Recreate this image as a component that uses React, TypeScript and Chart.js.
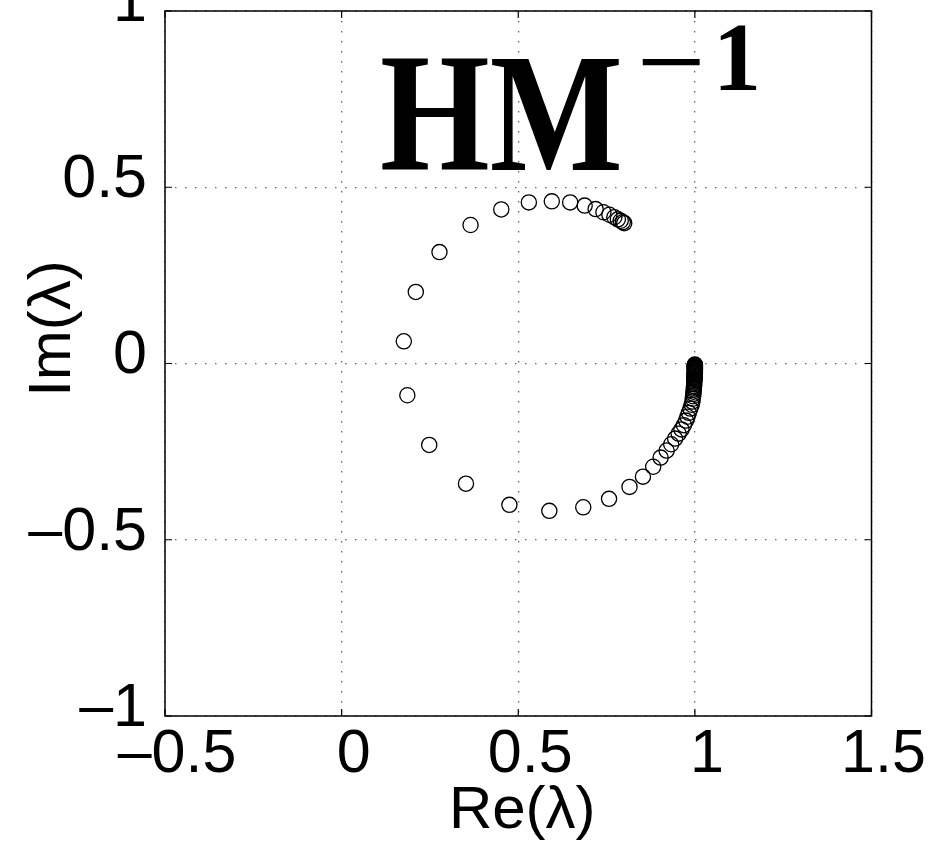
import React, { useEffect, useRef } from 'react';
import { Chart, registerables } from 'chart.js';

Chart.register(...registerables);

const reValues = [
  0.800, 0.796, 0.790, 0.782, 0.772, 0.758, 0.741, 0.719, 0.688, 0.647,
  0.595, 0.530, 0.452, 0.365, 0.277, 0.210, 0.176, 0.186, 0.248, 0.352,
  0.475, 0.588, 0.684, 0.757, 0.815, 0.853, 0.882, 0.903, 0.920, 0.933,
  0.944, 0.954, 0.962, 0.969, 0.975, 0.979, 0.983, 0.987, 0.991, 0.993,
  0.994, 0.995, 0.996, 0.996, 0.997, 0.997, 0.998, 0.998, 0.998, 0.998,
  0.999, 0.999, 0.999, 0.999, 0.999, 0.999, 0.999, 1.000, 1.000, 1.000,
  1.000, 1.000, 1.000, 1.000, 1.000, 1.000, 1.000, 1.000, 1.000, 1.000,
  1.000, 1.000, 1.000, 1.000, 1.000, 1.000, 1.000, 1.000,
];
const imValues = [
  0.398, 0.401, 0.405, 0.409, 0.415, 0.422, 0.429, 0.438, 0.448, 0.457,
  0.460, 0.457, 0.437, 0.393, 0.316, 0.203, 0.063, -0.090, -0.231, -0.341,
  -0.401, -0.418, -0.408, -0.384, -0.350, -0.321, -0.293, -0.267, -0.247, -0.229,
  -0.213, -0.199, -0.187, -0.175, -0.162, -0.151, -0.140, -0.128, -0.117, -0.108,
  -0.100, -0.093, -0.086, -0.080, -0.074, -0.069, -0.064, -0.059, -0.055, -0.051,
  -0.047, -0.044, -0.041, -0.038, -0.035, -0.032, -0.030, -0.028, -0.026, -0.024,
  -0.022, -0.020, -0.018, -0.017, -0.016, -0.015, -0.014, -0.013, -0.012, -0.011,
  -0.010, -0.009, -0.008, -0.007, -0.006, -0.005, -0.004, -0.003,
];

const xTickValues = [-0.5, 0, 0.5, 1, 1.5];
const xTickLabels = ['–0.5', '0', '0.5', '1', '1.5'];
const yTickValues = [-1, -0.5, 0, 0.5, 1];
const yTickLabels = ['–1', '–0.5', '0', '0.5', '1'];

const xAxisTitle = 'Re(λ)';
const yAxisTitle = 'Im(λ)';
const titleMain = 'HM';
const titleSupMinus = '−';
const titleSupOne = '1';

const SANS = '"Liberation Sans", Arial, Helvetica, sans-serif';
const SERIF = '"Liberation Serif", "Times New Roman", serif';

const decorPlugin = {
  id: 'decor',
  afterDraw(chart: any) {
    const { ctx, chartArea: a, scales } = chart;
    ctx.save();
    // full box
    ctx.strokeStyle = '#000';
    ctx.lineWidth = 1.5;
    ctx.strokeRect(a.left, a.top, a.right - a.left, a.bottom - a.top);
    // inward tick marks
    const tl = 7;
    ctx.lineWidth = 1.2;
    ctx.beginPath();
    for (const v of xTickValues) {
      const px = scales.x.getPixelForValue(v);
      ctx.moveTo(px, a.bottom);
      ctx.lineTo(px, a.bottom - tl);
      ctx.moveTo(px, a.top);
      ctx.lineTo(px, a.top + tl);
    }
    for (const v of yTickValues) {
      const py = scales.y.getPixelForValue(v);
      ctx.moveTo(a.left, py);
      ctx.lineTo(a.left + tl, py);
      ctx.moveTo(a.right, py);
      ctx.lineTo(a.right - tl, py);
    }
    ctx.stroke();

    ctx.fillStyle = '#000';
    // axis titles
    ctx.font = `60px ${SANS}`;
    ctx.textAlign = 'center';
    ctx.textBaseline = 'alphabetic';
    ctx.fillText(xAxisTitle, (a.left + a.right) / 2 + 4, a.bottom + 112);
    ctx.save();
    ctx.translate(a.left - 95, (a.top + a.bottom) / 2 - 35);
    ctx.rotate(-Math.PI / 2);
    ctx.fillText(yAxisTitle, 0, 0);
    ctx.restore();

    // in-plot title HM^{-1}
    const drawStretched = (txt: string, x: number, y: number, font: string, sx: number, sy: number) => {
      ctx.save();
      ctx.translate(x, y);
      ctx.scale(sx, sy);
      ctx.font = font;
      ctx.textAlign = 'left';
      ctx.textBaseline = 'alphabetic';
      ctx.fillText(txt, 0, 0);
      ctx.restore();
    };
    drawStretched(titleMain, a.left + 215, a.top + 159, `bold 141px ${SERIF}`, 1, 1.2);
    drawStretched(titleSupMinus, a.left + 471, a.top + 80, `bold 72px ${SERIF}`, 1.7, 1.2);
    drawStretched(titleSupOne, a.left + 548, a.top + 79, `bold 74px ${SERIF}`, 1.3, 1.32);
    ctx.restore();
  },
};

export default function App() {
  const ref = useRef<HTMLCanvasElement | null>(null);

  useEffect(() => {
    if (!ref.current) return;
    const points = reValues.map((x, i) => ({ x, y: imValues[i] }));
    const chart = new Chart(ref.current, {
      type: 'scatter',
      data: {
        datasets: [
          {
            data: points,
            pointRadius: 7.6,
            pointHoverRadius: 7.6,
            pointBorderWidth: 1.3,
            pointBorderColor: '#000',
            pointBackgroundColor: 'rgba(0,0,0,0)',
            showLine: false,
          },
        ],
      },
      options: {
        animation: false,
        responsive: false,
        maintainAspectRatio: false,
        devicePixelRatio: 1,
        layout: { padding: { left: 0, top: 11, right: 75.5, bottom: 0 } },
        plugins: { legend: { display: false }, tooltip: { enabled: false }, title: { display: false } },
        scales: {
          x: {
            type: 'linear',
            min: -0.5,
            max: 1.5,
            afterBuildTicks: (s: any) => {
              s.ticks = xTickValues.map((v) => ({ value: v }));
            },
            afterFit: (s: any) => {
              s.height = 125;
              s.paddingLeft = 0;
              s.paddingRight = 0;
            },
            grid: { color: 'rgba(0,0,0,0.6)', lineWidth: 1.3, drawTicks: false, tickLength: 0 },
            border: { display: false, dash: [1.5, 8.5] },
            ticks: {
              autoSkip: false,
              maxRotation: 0,
              minRotation: 0,
              padding: 8.5,
              labelOffset: 12,
              color: '#000',
              font: { family: SANS, size: 61, lineHeight: 1 },
              callback: (v: any) => {
                const i = xTickValues.indexOf(Number(v));
                return i >= 0 ? xTickLabels[i] : '';
              },
            },
          },
          y: {
            type: 'linear',
            min: -1,
            max: 1,
            afterBuildTicks: (s: any) => {
              s.ticks = yTickValues.map((v) => ({ value: v }));
            },
            afterFit: (s: any) => {
              s.width = 165;
              s.paddingTop = 0;
              s.paddingBottom = 0;
            },
            grid: { color: 'rgba(0,0,0,0.6)', lineWidth: 1.3, drawTicks: false, tickLength: 0 },
            border: { display: false, dash: [1.5, 8.5] },
            ticks: {
              autoSkip: false,
              padding: 18,
              color: '#000',
              font: { family: SANS, size: 61, lineHeight: '14px' },
              callback: (v: any) => {
                const i = yTickValues.indexOf(Number(v));
                return [i >= 0 ? yTickLabels[i] : '', ''];
              },
            },
          },
        },
      },
      plugins: [decorPlugin],
    } as any);
    return () => chart.destroy();
  }, []);

  return (
    <div style={{ position: 'fixed', left: 0, top: 0, width: 947, height: 841, background: '#fff' }}>
      <canvas ref={ref} width={947} height={841} style={{ display: 'block', width: 947, height: 841 }} />
    </div>
  );
}
